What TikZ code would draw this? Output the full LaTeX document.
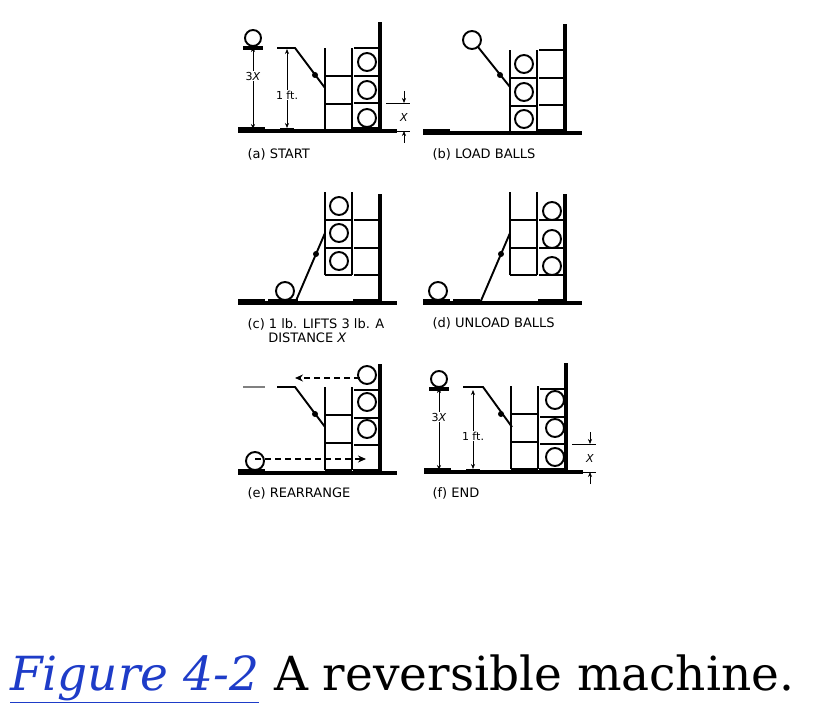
\documentclass[tikz,border=0pt]{standalone}
\usepackage{fontspec}
\setmainfont{DejaVu Serif}
\setsansfont{DejaVu Sans}
\usetikzlibrary{arrows.meta}
\definecolor{linkblue}{RGB}{30,60,200}

% parts of one panel, local frame: wall at x=0, ground at y=0
\newcommand{\frameparts}{%
  \draw[heavy] (-142,0) -- (17,0);
  \fill (-142,-4) rectangle (-115,0);
  \fill (-27,-4) rectangle (0,0);
  \draw[heavy] (0,0) -- (0,-109);
  \foreach \s in {-28,-55,-83} \draw[thin line] (-26,\s) -- (0,\s);}
\newcommand{\elevator}[1]{%
  \draw[thin line] (-55,#1) -- (-55,#1-83) (-28,#1) -- (-28,#1-83);
  \foreach \s in {0,-27,-55} \draw[thin line] (-55,#1+\s) -- (-28,#1+\s);}
\newcommand{\dimensions}{%
  \draw[heavy] (-137,-83) -- (-117,-83);
  \draw[ball] (-127,-93) circle (8);
  \node[dimlabel] (tx) at (-127,-55) {3\textit{X}};
  \draw[dim] (tx.north) -- (-127,-84);
  \draw[dim] (tx.south) -- (-127,-2);
  \node[dimlabel] (ft) at (-93,-36) {1 ft.};
  \draw[dim] (ft.north) -- (-93,-82);
  \draw[dim] (ft.south) -- (-93,-3);
  \draw[semithick] (-100,-3) -- (-86,-3);
  \draw[semithick] (6,-28) -- (30,-28) (6,0) -- (30,0);
  \draw[dim] (24,-40) -- (24,-28);
  \draw[dim] (24,12) -- (24,0);
  \node[dimlabel] at (24,-14) {\textit{X}};}

\begin{document}
\begin{tikzpicture}[x=1pt,y=-1pt,
    heavy/.style={line width=3.6pt},
    thin line/.style={line width=1.9pt},
    dim/.style={semithick, -{Stealth[length=5pt,width=4pt]}},
    dimlabel/.style={font=\sffamily\fontsize{11}{12}\selectfont, fill=white, inner sep=1pt},
    panel/.style={font=\sffamily\fontsize{13}{15}\selectfont, anchor=west, align=left},
    ball/.style={thin line, fill=white}]
  \useasboundingbox (0,0) rectangle (824,719);

  % (a) start
  \begin{scope}[shift={(380,131)}]
    \frameparts
    \elevator{0}
    \foreach \b in {-13,-41,-69} \draw[ball] (-13,\b) circle (9);
    \draw[thin line] (-103,-83) -- (-85,-83) -- (-55,-43);
    \fill (-65,-56) circle (3);
    \dimensions
    \node[panel] (la) at (-136,23) {(a) START};
  \end{scope}

  % (b) load balls
  \begin{scope}[shift={(565,133)}]
    \frameparts
    \elevator{0}
    \foreach \b in {-14,-41,-69} \draw[ball] (-41,\b) circle (9);
    \draw[ball] (-93,-93) circle (9);
    \draw[thin line] (-87,-86) -- (-55,-46);
    \fill (-65,-58) circle (3);
    \node[panel] (lb) at (-136,21) {(b) LOAD BALLS};
  \end{scope}

  % (c) lift
  \begin{scope}[shift={(380,303)}]
    \frameparts
    \fill (-112,-4) rectangle (-82,0);
    \elevator{-28}
    \foreach \b in {-42,-70,-97} \draw[ball] (-41,\b) circle (9);
    \draw[thin line] (-85,0) -- (-55,-70);
    \fill (-64,-49) circle (3);
    \draw[ball] (-95,-12) circle (9);
    \node[panel] (lc) at (-136,28) {(c) 1 lb. LIFTS 3 lb. A\\[-1pt]\hspace*{1.6em}DISTANCE \textit{X}};
  \end{scope}

  % (d) unload balls
  \begin{scope}[shift={(565,303)}]
    \frameparts
    \fill (-112,-4) rectangle (-85,0);
    \elevator{-28}
    \foreach \b in {-37,-64,-92} \draw[ball] (-13,\b) circle (9);
    \draw[thin line] (-85,0) -- (-55,-70);
    \fill (-64,-49) circle (3);
    \draw[ball] (-127,-12) circle (9);
    \node[panel] (ld) at (-136,20) {(d) UNLOAD BALLS};
  \end{scope}

  % (e) rearrange
  \begin{scope}[shift={(380,473)}]
    \frameparts
    \elevator{-3}
    \foreach \b in {-44,-71,-98} \draw[ball] (-13,\b) circle (9);
    \draw[gray, thin line] (-137,-86) -- (-115,-86);
    \draw[thin line] (-103,-86) -- (-85,-86) -- (-55,-46);
    \fill (-65,-59) circle (3);
    \draw[ball] (-125,-12) circle (9);
    \coordinate (topstart) at (-20,-95);
    \coordinate (topend) at (-85,-95);
    \coordinate (lowstart) at (-125,-14);
    \coordinate (lowend) at (-14,-14);
    \draw[thin line, dash pattern=on 6pt off 4pt, -{Stealth[length=8pt,width=7pt]}] (topstart) -- (topend);
    \draw[thin line, dash pattern=on 6pt off 4pt, -{Stealth[length=8pt,width=7pt]}] (lowstart) -- (lowend);
    \node[panel] (le) at (-136,20) {(e) REARRANGE};
  \end{scope}

  % (f) end
  \begin{scope}[shift={(566,472)}]
    \frameparts
    \elevator{-3}
    \foreach \b in {-15,-44,-72} \draw[ball] (-11,\b) circle (9);
    \draw[thin line] (-103,-85) -- (-83,-85) -- (-54,-45);
    \fill (-65,-58) circle (3);
    \dimensions
    \node[panel] (lf) at (-137,21) {(f) END};
  \end{scope}

  \node[anchor=base west, font=\fontsize{47}{50}\selectfont, inner sep=0] (cap) at (10,690)
    {\textcolor{linkblue}{\underline{\textit{Figure 4-2}}} A reversible machine.};
\end{tikzpicture}
\end{document}
